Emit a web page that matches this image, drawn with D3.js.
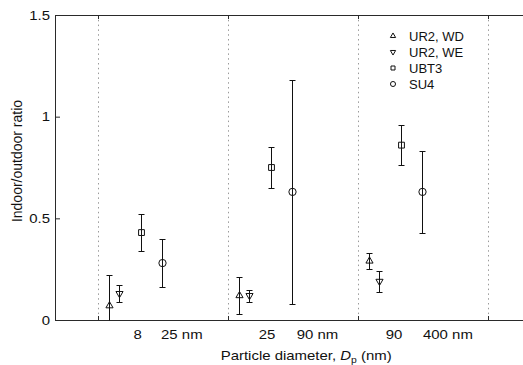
<!DOCTYPE html>
<html>
<head>
<meta charset="utf-8">
<script src="https://cdn.jsdelivr.net/npm/d3@7"></script>
<style>
  html, body { margin: 0; padding: 0; background: #fff; }
  svg { display: block; font-family: "Liberation Sans", Arial, sans-serif; }
</style>
</head>
<body>
<svg id="chart" width="523" height="365"></svg>
<script>
// Size bins (lower / upper bound of each bin) shown under the x axis
const binLow = ["8", "25", "90"];
const binHigh = ["25 nm", "90 nm", "400 nm"];

// Sites / campaigns
const seriesNames = ["UR2, WD", "UR2, WE", "UBT3", "SU4"];

// Mean indoor/outdoor ratio per size bin, and its standard deviation
const ur2WdMean = [0.07, 0.12, 0.29];
const ur2WdSd   = [0.15, 0.09, 0.04];
const ur2WeMean = [0.13, 0.12, 0.19];
const ur2WeSd   = [0.04, 0.03, 0.05];
const ubt3Mean  = [0.43, 0.75, 0.86];
const ubt3Sd    = [0.09, 0.10, 0.10];
const su4Mean   = [0.28, 0.63, 0.63];
const su4Sd     = [0.12, 0.55, 0.20];

const yTicks = [0, 0.5, 1, 1.5];

(function draw() {
  const svg = d3.select("#chart");
  const plotLeft = 55, plotTop = 15, plotBottom = 320;
  const unit = 130;                      // width of one size bin in px
  const stretch = 1.15;                  // horizontal widening of axis text

  // bins live on [0,1], [1,2], [2,3]; the frame reaches a third of a bin past them
  const x = d3.scaleLinear()
    .domain([-43 / unit, 3 + 43 / unit])
    .range([plotLeft, plotLeft + 43 + 3 * unit + 43]);
  const y = d3.scaleLinear().domain([0, 1.5]).range([plotBottom, plotTop]);

  // where each series sits inside its bin
  const offsets = [0.085, 0.165, 0.331, 0.496];
  const symbols = [
    { type: d3.symbolTriangle, rot: 0,   size: 22, legendSize: 12 },
    { type: d3.symbolTriangle, rot: 180, size: 22, legendSize: 12 },
    { type: d3.symbolSquare,   rot: 0,   size: 34, legendSize: 16 },
    { type: d3.symbolCircle,   rot: 0,   size: 42, legendSize: 20 }
  ];

  const means = [ur2WdMean, ur2WeMean, ubt3Mean, su4Mean];
  const sds = [ur2WdSd, ur2WeSd, ubt3Sd, su4Sd];
  const points = [];
  seriesNames.forEach((name, s) => {
    means[s].forEach((m, b) => points.push({ s, b, mean: m, sd: sds[s][b] }));
  });

  svg.append("defs").append("clipPath").attr("id", "plotClip")
    .append("rect")
    .attr("x", plotLeft).attr("y", plotTop)
    .attr("width", 523 - plotLeft).attr("height", plotBottom - plotTop + 0.5);

  // bin separators
  svg.append("g")
    .selectAll("line")
    .data([0, 1, 2, 3])
    .join("line")
    .attr("x1", d => Math.round(x(d)) + 0.5)
    .attr("x2", d => Math.round(x(d)) + 0.5)
    .attr("y1", y(1.5))
    .attr("y2", y(0))
    .attr("stroke", "#9a9a9a")
    .attr("stroke-width", 1)
    .attr("stroke-dasharray", "1.5,3.3");

  // frame: bottom, top and left axes
  const axisColor = "#2a2a2a";
  const bottomAxis = svg.append("g")
    .attr("transform", `translate(0,${y(0)})`)
    .call(d3.axisBottom(x).tickValues([0, 1, 2, 3]).tickSize(-4).tickSizeOuter(0).tickFormat(""));
  const topAxis = svg.append("g")
    .attr("transform", `translate(0,${y(1.5)})`)
    .call(d3.axisTop(x).tickValues([0, 1, 2, 3]).tickSize(-4).tickSizeOuter(0).tickFormat(""));
  const leftAxis = svg.append("g")
    .attr("transform", `translate(${plotLeft},0)`)
    .call(d3.axisLeft(y).tickValues(yTicks).tickSize(-5).tickSizeOuter(0)
      .tickPadding(5).tickFormat(d => String(d)));

  [bottomAxis, topAxis, leftAxis].forEach(g => {
    g.selectAll("path, line").attr("stroke", axisColor);
  });
  leftAxis.selectAll("text")
    .attr("font-family", "Liberation Sans, Arial, sans-serif")
    .attr("font-size", 13)
    .attr("fill", "#111")
    .attr("x", -5 / stretch)
    .attr("transform", `scale(${stretch},1)`);

  // error bars
  const capHalf = 3;
  const bars = svg.append("g").attr("clip-path", "url(#plotClip)")
    .attr("stroke", "#111").attr("stroke-width", 1).attr("fill", "none");
  points.forEach(p => {
    const cx = Math.round(x(p.b + offsets[p.s])) + 0.5;
    const yHi = Math.round(y(p.mean + p.sd)) + 0.5;
    const yLo = Math.round(y(p.mean - p.sd)) + 0.5;
    bars.append("line").attr("x1", cx).attr("x2", cx).attr("y1", yHi).attr("y2", yLo);
    bars.append("line").attr("x1", cx - capHalf).attr("x2", cx + capHalf).attr("y1", yHi).attr("y2", yHi);
    bars.append("line").attr("x1", cx - capHalf).attr("x2", cx + capHalf).attr("y1", yLo).attr("y2", yLo);
  });

  // markers
  svg.append("g")
    .selectAll("path")
    .data(points)
    .join("path")
    .attr("d", p => d3.symbol(symbols[p.s].type, symbols[p.s].size)())
    .attr("transform", p => `translate(${Math.round(x(p.b + offsets[p.s])) + 0.5},${y(p.mean)}) rotate(${symbols[p.s].rot})`)
    .attr("fill", "none")
    .attr("stroke", "#111")
    .attr("stroke-width", 1);

  // bin labels under the axis
  const tickText = svg.append("g").attr("font-size", 13).attr("fill", "#111");
  const lowPos = [0.305, 0.3, 0.277];
  const highPos = [0.485, 0.528, 0.5];
  binLow.forEach((t, i) => {
    tickText.append("text")
      .attr("text-anchor", "middle")
      .attr("transform", `translate(${x(i + lowPos[i])},338.5) scale(${stretch},1)`)
      .text(t);
  });
  binHigh.forEach((t, i) => {
    tickText.append("text")
      .attr("text-anchor", "start")
      .attr("transform", `translate(${x(i + highPos[i])},338.5) scale(${stretch},1)`)
      .text(t);
  });

  // axis titles
  const xTitle = svg.append("text")
    .attr("font-size", 13).attr("fill", "#111")
    .attr("transform", `translate(220.7,360) scale(${stretch},1)`);
  xTitle.append("tspan").text("Particle diameter, ");
  xTitle.append("tspan").attr("font-style", "italic").text("D");
  xTitle.append("tspan").attr("font-size", 9).attr("dy", 3).text("p");
  xTitle.append("tspan").attr("dy", -3).text(" (nm)");

  svg.append("text")
    .attr("font-size", 14).attr("fill", "#111")
    .attr("text-anchor", "middle")
    .attr("transform", "translate(21.5,161) rotate(-90)")
    .text("Indoor/outdoor ratio");

  // legend
  const legend = svg.append("g").attr("transform", "translate(393,36)");
  seriesNames.forEach((name, s) => {
    const row = legend.append("g").attr("transform", `translate(0,${s * 16})`);
    row.append("path")
      .attr("d", d3.symbol(symbols[s].type, symbols[s].legendSize)())
      .attr("transform", `rotate(${symbols[s].rot})`)
      .attr("fill", "none").attr("stroke", "#111").attr("stroke-width", 1);
    row.append("text")
      .attr("x", 16).attr("y", 4.6)
      .attr("font-size", 13).attr("fill", "#111")
      .text(name);
  });
})();
</script>
</body>
</html>
